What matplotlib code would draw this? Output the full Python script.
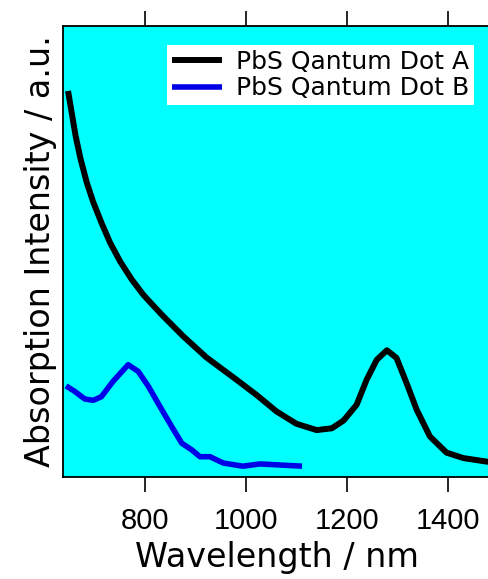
import numpy as np
from matplotlib import pyplot as plt

# Absorption spectra (arbitrary units)
wl_a = [648, 655, 663, 673, 685, 698, 714, 731, 751, 774, 797, 815, 836,
        876, 922, 975, 1021, 1061, 1100, 1140, 1170, 1193, 1219, 1239, 1259,
        1279, 1298, 1318, 1338, 1364, 1397, 1430, 1477, 1490]
abs_a = [0.856, 0.809, 0.756, 0.704, 0.653, 0.609, 0.564, 0.520, 0.478, 0.438,
         0.404, 0.382, 0.357, 0.312, 0.265, 0.221, 0.182, 0.145, 0.118, 0.104,
         0.108, 0.125, 0.160, 0.216, 0.260, 0.281, 0.264, 0.208, 0.149, 0.090,
         0.054, 0.042, 0.034, 0.033]

wl_b = [644, 661, 681, 698, 714, 737, 767, 787, 807, 830, 853, 873, 893,
        909, 929, 955, 994, 1028, 1061, 1111]
abs_b = [0.202, 0.190, 0.173, 0.170, 0.178, 0.212, 0.249, 0.234, 0.201, 0.156,
         0.112, 0.075, 0.060, 0.045, 0.045, 0.031, 0.024, 0.029, 0.027, 0.024]

labels = ["PbS Qantum Dot A", "PbS Qantum Dot B"]
xticks = [800, 1000, 1200, 1400]

plt.rcParams['font.family'] = ['DejaVu Sans']

fig = plt.figure(figsize=(4.89, 5.79), dpi=100)
ax = fig.add_axes([63/489, 1 - 477/579, 428/489, 451/579])
ax.set_facecolor('#00ffff')

ax.plot(wl_a, abs_a, color='black', lw=4.3, label=labels[0],
        solid_joinstyle='round', solid_capstyle='butt')
ax.plot(wl_b, abs_b, color='#0000e6', lw=4.0, label=labels[1],
        solid_joinstyle='round', solid_capstyle='butt')

ax.set_xlim(638, 1485)
ax.set_ylim(0, 1.0)
ax.set_xticks(xticks)
ax.set_xticklabels([str(t) for t in xticks], family='Liberation Sans')
ax.set_yticks([])
ax.tick_params(axis='x', which='both', direction='out', length=10.8, width=1.2,
               top=True, bottom=True, labeltop=False, labelsize=21, pad=11)
for s in ax.spines.values():
    s.set_linewidth(1.3)
ax.spines['right'].set_visible(False)

ax.set_xlabel("Wavelength / nm", fontsize=24, labelpad=4)
ax.set_ylabel("Absorption Intensity / a.u.", fontsize=24, labelpad=4)

leg = ax.legend(loc='upper right', bbox_to_anchor=(0.96, 0.958), borderaxespad=0,
                fontsize=18, frameon=True, fancybox=False, framealpha=1,
                edgecolor='white', handlelength=2.0, handletextpad=0.55,
                borderpad=0.2, labelspacing=0.1)
leg.get_frame().set_linewidth(0)

fig.savefig('out.png', dpi=100)
